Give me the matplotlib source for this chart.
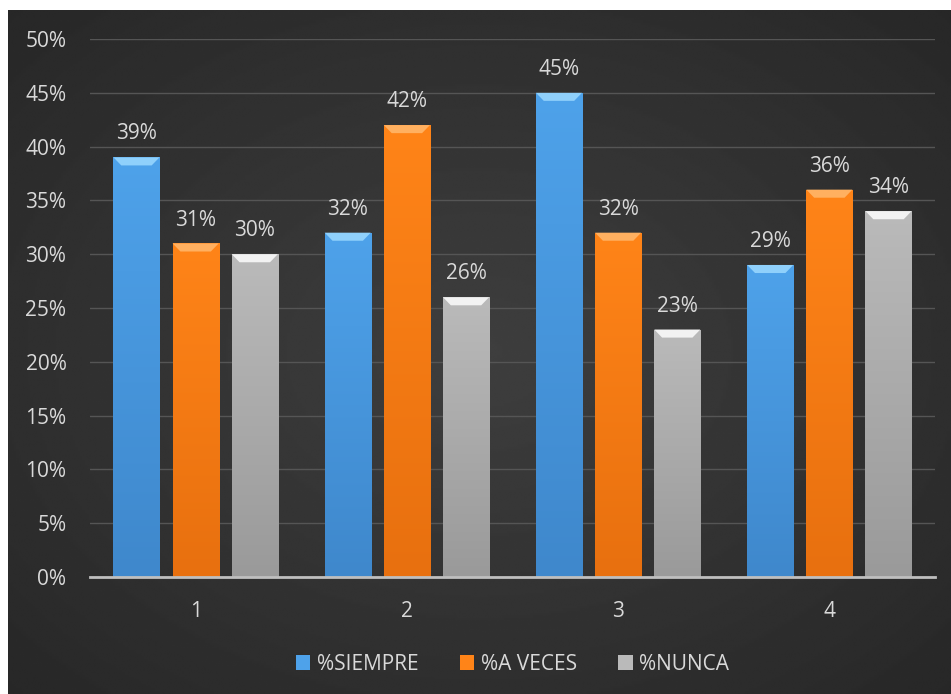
import numpy as np
import matplotlib
matplotlib.use('Agg')
import matplotlib.pyplot as plt
from matplotlib.patches import Polygon, Rectangle
from matplotlib.ticker import MultipleLocator, FuncFormatter

categories = ['1', '2', '3', '4']
siempre = [39, 32, 45, 29]
a_veces = [31, 42, 32, 36]
nunca = [30, 26, 23, 34]
series_names = ['%SIEMPRE', '%A VECES', '%NUNCA']

top_colors = ['#4ea2ea', '#ff8418', '#bababa']
bottom_colors = ['#3f88cc', '#e8700f', '#9a9a9a']
cap_colors = ['#8fd0fb', '#ffb060', '#f2f2f2']

plt.rcParams['font.family'] = ['Open Sans', 'DejaVu Sans']
text_col = '#d9d9d9'
fs = 15

fig = plt.figure(figsize=(9.51, 6.94), dpi=100)
fig.patch.set_facecolor('white')

# dark background with soft radial gradient
bg = fig.add_axes([8 / 951, 0, 1 - 8 / 951, 1 - 10 / 694])
yy, xx = np.mgrid[-1:1:300j, -1:1:400j]
r = np.sqrt(xx ** 2 + yy ** 2) / np.sqrt(2)
bg.imshow(0.245 - 0.09 * r, cmap='gray', vmin=0, vmax=1, aspect='auto',
          extent=[0, 1, 0, 1], interpolation='bilinear')
bg.set_axis_off()

ax = fig.add_axes([90 / 951, 117 / 694, 845 / 951, 538 / 694])
ax.patch.set_alpha(0)
ax.set_xlim(-0.5, 3.5)
ax.set_ylim(0, 50)

width = 0.218
offsets = [-0.28, 0, 0.28]
x = np.arange(len(categories))
all_series = [siempre, a_veces, nunca]

ax.yaxis.set_major_locator(MultipleLocator(5))
ax.yaxis.set_major_formatter(FuncFormatter(lambda v, p: '%d%%' % v))
ax.grid(axis='y', color='#555555', linewidth=1)
ax.set_axisbelow(True)

grad = np.linspace(0, 1, 100).reshape(-1, 1)
for i, vals in enumerate(all_series):
    cmap = matplotlib.colors.LinearSegmentedColormap.from_list(
        's%d' % i, [bottom_colors[i], top_colors[i]])
    for xi, v in zip(x + offsets[i], vals):
        left = xi - width / 2
        rect = Rectangle((left, 0), width, v, facecolor='none',
                         edgecolor='none', zorder=3)
        ax.add_patch(rect)
        im = ax.imshow(grad, cmap=cmap, origin='lower', aspect='auto',
                       extent=[left, left + width, 0, v], zorder=3,
                       interpolation='bilinear')
        im.set_clip_path(rect)
        # bevel cap
        dx = width * 0.17
        dy = 0.75
        cap = Polygon([(left, v), (left + width, v),
                       (left + width - dx, v - dy), (left + dx, v - dy)],
                      closed=True, facecolor=cap_colors[i], edgecolor='none',
                      zorder=4)
        ax.add_patch(cap)
        ax.text(xi, v + 1.2, '%d%%' % v, ha='center', va='bottom',
                color=text_col, fontsize=fs)
    ax.bar([0], [0], color=top_colors[i], label=series_names[i])

ax.set_xticks(x)
ax.set_xticklabels(categories)
ax.tick_params(axis='both', length=0, colors=text_col, labelsize=fs)
ax.tick_params(axis='x', pad=17)
ax.tick_params(axis='y', pad=17)
for s in ['top', 'right', 'left']:
    ax.spines[s].set_visible(False)
ax.spines['bottom'].set_color('#bfbfbf')
ax.spines['bottom'].set_linewidth(2)
ax.spines['bottom'].set_zorder(5)

leg = ax.legend(loc='upper center', bbox_to_anchor=(0.5, -0.108), ncol=3,
                frameon=False, fontsize=fs, handlelength=0.7, handleheight=0.7,
                columnspacing=2.0, handletextpad=0.3)
for t in leg.get_texts():
    t.set_color(text_col)

fig.savefig('out.png', dpi=100, facecolor=fig.get_facecolor())
